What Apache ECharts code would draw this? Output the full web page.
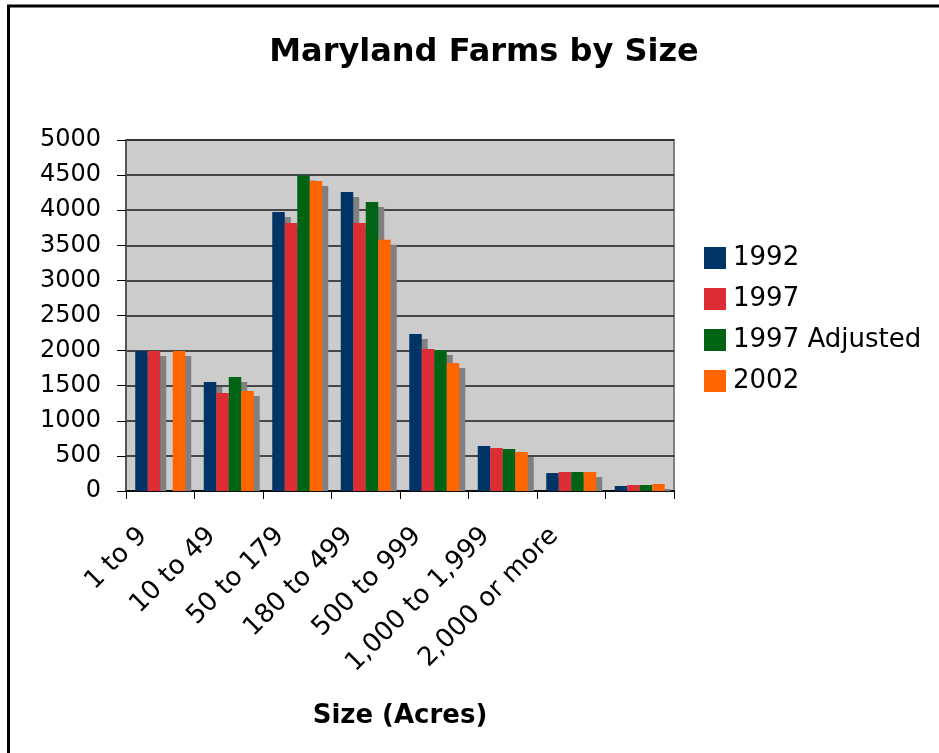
<!DOCTYPE html>
<html>
<head>
<meta charset="utf-8">
<script src="https://cdn.jsdelivr.net/npm/echarts@6/dist/echarts.min.js"></script>
<style>
  html, body { margin: 0; padding: 0; background: #fff; }
  #chart { width: 939px; height: 753px; }
</style>
</head>
<body>
<div id="chart"></div>
<script>
// farm size classes (last slot has no label in the original)
const categories = ['1 to 9', '10 to 49', '50 to 179', '180 to 499', '500 to 999', '1,000 to 1,999', '2,000 or more', '']
const yTicks = [0, 500, 1000, 1500, 2000, 2500, 3000, 3500, 4000, 4500, 5000]

// number of farms
const farms1992 = [1994, 1553, 3974, 4259, 2236, 641, 256, 71]
const farms1997 = [1994, 1396, 3817, 3817, 2023, 612, 271, 85]
const farms1997Adj = [null, 1624, 4496, 4117, 2008, 598, 271, 85]
const farms2002 = [1994, 1424, 4416, 3580, 1823, 556, 271, 100]

const seriesNames = ['1992', '1997', '1997 Adjusted', '2002']
const seriesColors = ['#003366', '#dc2d34', '#006414', '#ff6600']
const seriesData = [farms1992, farms1997, farms1997Adj, farms2002]

const font = 'DejaVu Sans'
const chart = echarts.init(document.getElementById('chart'))

// bars with a flat gray drop shadow (right/down), cut at the axis
function barWithShadow(idx) {
  return function (params, api) {
    const val = api.value(1)
    if (val == null || isNaN(val)) return
    const cat = api.value(0)
    const base = api.coord([cat, 0])
    const top = api.coord([cat, val])
    const band = api.size([1, 0])[0]
    const w = band * 0.73 / 4
    const x = base[0] - 2 * w + idx * w
    const h = base[1] - top[1]
    const children = []
    if (h > 5) {
      children.push({ type: 'rect', shape: { x: x + 6, y: top[1] + 5, width: w, height: h - 5 }, style: { fill: '#808080' } })
    }
    children.push({ type: 'rect', shape: { x: x, y: top[1], width: w, height: h }, style: { fill: seriesColors[idx] } })
    return { type: 'group', children: children }
  }
}

chart.setOption({
  animation: false,
  backgroundColor: '#fff',
  title: {
    text: 'Maryland Farms by Size',
    left: 479,
    top: 32,
    textAlign: 'center',
    textStyle: { fontFamily: font, fontSize: 32, fontWeight: 'bold', color: '#000' }
  },
  legend: {
    data: seriesNames,
    orient: 'vertical',
    left: 704,
    top: 245,
    padding: 0,
    icon: 'rect',
    itemWidth: 22,
    itemHeight: 22,
    itemGap: 15,
    textStyle: { fontFamily: font, fontSize: 26, color: '#000', padding: [0, 0, 0, 2] }
  },
  grid: {
    left: 126,
    right: 265,
    top: 140,
    bottom: 262,
    show: true,
    backgroundColor: '#cccccc',
    borderColor: '#808080',
    borderWidth: 2
  },
  xAxis: {
    type: 'category',
    data: categories,
    name: 'Size (Acres)',
    nameLocation: 'middle',
    nameGap: 212,
    nameTextStyle: { fontFamily: font, fontSize: 26, fontWeight: 'bold', color: '#000' },
    axisLine: { show: true, lineStyle: { color: '#000', width: 1.5 } },
    axisTick: { show: true, alignWithLabel: false, length: 8, lineStyle: { color: '#000', width: 1 } },
    axisLabel: {
      interval: 0,
      rotate: 45,
      margin: 24,
      padding: [0, 24, 0, 0],
      fontFamily: font,
      fontSize: 26,
      color: '#000'
    }
  },
  yAxis: {
    type: 'value',
    min: yTicks[0],
    max: yTicks[yTicks.length - 1],
    interval: 500,
    axisLine: { show: true, lineStyle: { color: '#555', width: 2 } },
    axisTick: { show: true, length: 9, lineStyle: { color: '#000' } },
    axisLabel: {
      margin: 25,
      fontFamily: font,
      fontSize: 24,
      color: '#000',
      formatter: v => String(v)
    },
    splitLine: { lineStyle: { color: '#1a1a1a', width: 1.5 } }
  },
  series: seriesNames.map((name, i) => ({
    name: name,
    type: 'custom',
    renderItem: barWithShadow(i),
    itemStyle: { color: seriesColors[i] },
    encode: { x: 0, y: 1 },
    data: seriesData[i].map((v, j) => [j, v])
  })),
  graphic: [
    { type: 'line', shape: { x1: 8.5, y1: 5, x2: 8.5, y2: 753 }, style: { stroke: '#000', lineWidth: 3 } },
    { type: 'line', shape: { x1: 7, y1: 6, x2: 939, y2: 6 }, style: { stroke: '#000', lineWidth: 3 } }
  ]
})
</script>
</body>
</html>
